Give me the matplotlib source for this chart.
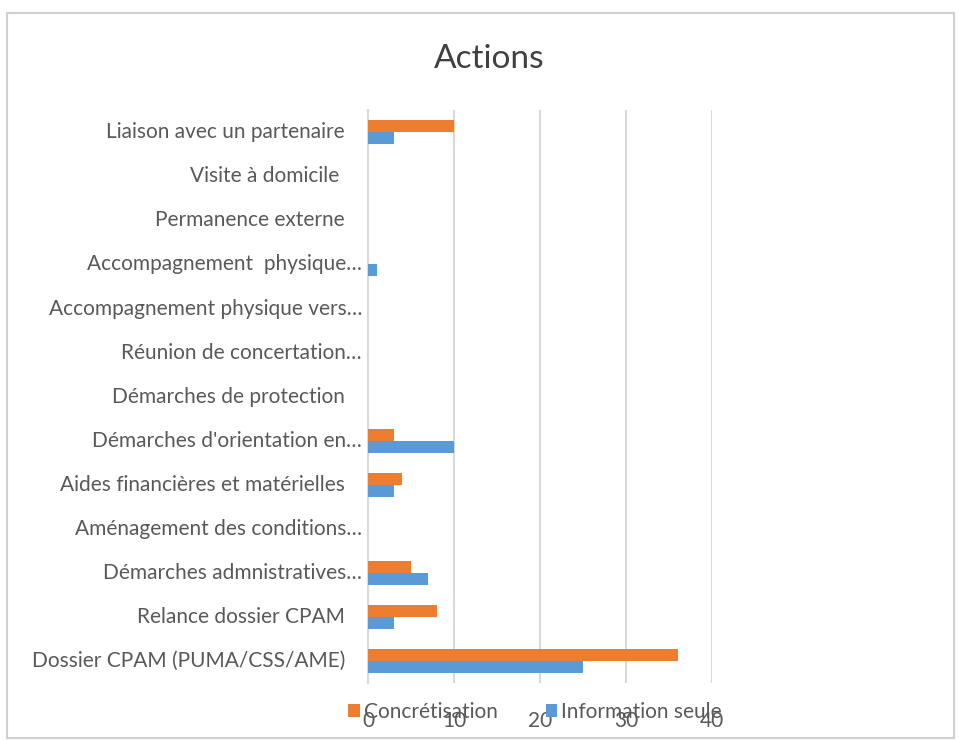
import matplotlib

matplotlib.use("Agg")
import matplotlib.pyplot as plt  # noqa: E402
import matplotlib.transforms as mtransforms  # noqa: E402
import numpy as np  # noqa: E402
from matplotlib.patches import Rectangle  # noqa: E402

plt.rcParams["font.family"] = ["Lato", "DejaVu Sans"]

# categories listed bottom to top
categories = [
    "Dossier CPAM (PUMA/CSS/AME)",
    "Relance dossier CPAM",
    "Démarches admnistratives…",
    "Aménagement des conditions…",
    "Aides financières et matérielles",
    "Démarches d'orientation en…",
    "Démarches de protection",
    "Réunion de concertation…",
    "Accompagnement physique vers…",
    "Accompagnement  physique…",
    "Permanence externe",
    "Visite à domicile ",
    "Liaison avec un partenaire",
]
concretisation = [36, 8, 5, 0, 4, 3, 0, 0, 0, 0, 0, 0, 10]
information_seule = [25, 3, 7, 0, 3, 10, 0, 0, 0, 1, 0, 0, 3]
x_ticks = [0, 10, 20, 30, 40]

ORANGE = "#ED7D31"
BLUE = "#5B9BD5"
GRID = "#D9D9D9"
TEXT = "#595959"
FS = 15

fig = plt.figure(figsize=(9.59, 7.4), dpi=100)
ax = fig.add_axes([0.3837, 0.077, 0.3587, 0.774])

y = np.arange(len(categories))
h = 0.27
ax.barh(y + h / 2, concretisation, height=h, color=ORANGE, label="Concrétisation", zorder=3)
ax.barh(y - h / 2, information_seule, height=h, color=BLUE, label="Information seule", zorder=3)

ax.set_xlim(0, 40)
ax.set_ylim(-0.5, len(categories) - 0.5)
ax.set_xticks(x_ticks)
ax.set_yticks(y)
ax.set_yticklabels([])
ax.tick_params(axis="x", labelsize=FS, labelcolor=TEXT, length=0, pad=20)
ax.tick_params(axis="y", length=0)
ax.grid(axis="x", color=GRID, lw=1.5, zorder=0)
for s in ["top", "right", "bottom"]:
    ax.spines[s].set_visible(False)
ax.spines["left"].set_color(GRID)
ax.spines["left"].set_linewidth(1.5)

# category names: truncated ones sit closer to the axis than full ones
blend = mtransforms.blended_transform_factory(ax.transAxes, ax.transData)
for yi, name in zip(y, categories):
    gap = -6 if name.endswith("…") else -23
    off = mtransforms.ScaledTranslation(gap / 100, 0, fig.dpi_scale_trans)
    ax.text(0, yi, name, transform=blend + off, ha="right", va="center",
            fontsize=FS, color=TEXT)

fig.text(0.51, 0.92, "Actions", ha="center", va="center", fontsize=24, color="#404040")

fig.legend(
    loc="center",
    bbox_to_anchor=(0.558, 0.038),
    ncol=2,
    frameon=False,
    fontsize=FS,
    labelcolor=TEXT,
    handlelength=0.55,
    handleheight=0.55,
    handletextpad=0.2,
    columnspacing=2.3,
)

fig.patches.append(
    Rectangle((0.007, 0.003), 0.988, 0.98, transform=fig.transFigure,
              fill=False, edgecolor="#D0D0D0", lw=1.5)
)

fig.savefig("out.png", dpi=100)
